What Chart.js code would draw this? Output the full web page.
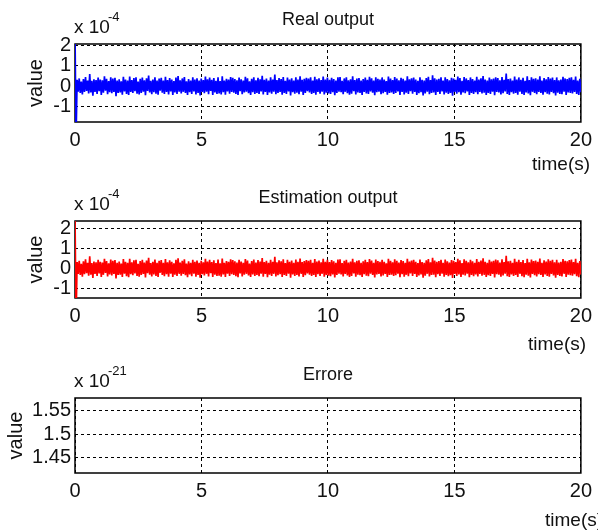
<!DOCTYPE html>
<html>
<head>
<meta charset="utf-8">
<script src="https://cdn.jsdelivr.net/npm/chart.js@4/dist/chart.umd.min.js"></script>
<style>
  html, body { margin: 0; padding: 0; background: #fff; }
  #wrap { position: relative; width: 598px; height: 532px; }
  .panel { position: absolute; left: 0; width: 598px; }
</style>
</head>
<body>
<div id="wrap">
  <div class="panel" style="top:0;height:180px"><canvas id="c1"></canvas></div>
  <div class="panel" style="top:180px;height:176px"><canvas id="c2"></canvas></div>
  <div class="panel" style="top:356px;height:176px"><canvas id="c3"></canvas></div>
</div>
<script>
// x axis: time in seconds
const timeTicks = [0, 5, 10, 15, 20];
const timeEnd = 20;

// y ticks (values shown in units of the exponent label)
const realTicks = [-1, 0, 1, 2];
const estTicks = [-1, 0, 1, 2];
const errTicks = [1.45, 1.5, 1.55];

// real output, x 10^-4 (start transient, then noise band)
const realValues = [
  2.6, -2.6,
  0.31, -0.27, 0.38, -0.33, 0.22, -0.41, 0.35, -0.29, 0.45, -0.24,
  0.28, -0.36, 0.60, -0.31, 0.26, -0.47, 0.34, -0.28, 0.30, -0.38,
  0.42, -0.25, 0.33, -0.43, 0.29, -0.32, 0.48, -0.23, 0.36, -0.40,
  0.25, -0.30, 0.44, -0.35, 0.37, -0.28, 0.41, -0.50, 0.27, -0.33,
  0.34, -0.31, 0.24, -0.42, 0.46, -0.26, 0.32, -0.39, 0.28, -0.44,
  0.47, -0.29, 0.30, -0.34, 0.40, -0.25, 0.43, -0.37, 0.23, -0.41,
  0.36, -0.33, 0.42, -0.27, 0.29, -0.45, 0.39, -0.24, 0.52, -0.31,
  0.26, -0.40, 0.33, -0.30, 0.44, -0.37, 0.28, -0.42, 0.37, -0.22,
  0.41, -0.32, 0.27, -0.39, 0.46, -0.29, 0.30, -0.41, 0.40, -0.26,
  0.33, -0.43, 0.25, -0.31, 0.42, -0.38, 0.50, -0.27, 0.29, -0.36,
  0.38, -0.28, 0.45, -0.34, 0.24, -0.44, 0.35, -0.30, 0.28, -0.39,
  0.43, -0.26, 0.32, -0.41, 0.39, -0.33, 0.27, -0.46, 0.37, -0.29,
  0.30, -0.35, 0.47, -0.27, 0.34, -0.40, 0.42, -0.24, 0.31, -0.43,
  0.40, -0.31, 0.26, -0.38, 0.44, -0.36, 0.25, -0.41, 0.49, -0.30,
  0.27, -0.42, 0.36, -0.26, 0.33, -0.37, 0.45, -0.29, 0.41, -0.32,
  0.35, -0.39, 0.29, -0.44, 0.42, -0.25, 0.34, -0.40, 0.28, -0.31,
  0.46, -0.27, 0.39, -0.35, 0.24, -0.43, 0.36, -0.30, 0.44, -0.38,
  0.29, -0.33, 0.41, -0.39, 0.34, -0.26, 0.51, -0.41, 0.31, -0.28,
  0.37, -0.44, 0.27, -0.31, 0.43, -0.37, 0.32, -0.27, 0.57, -0.40,
  0.30, -0.34, 0.40, -0.29, 0.35, -0.42, 0.45, -0.33, 0.26, -0.38,
  0.42, -0.26, 0.33, -0.46, 0.39, -0.30, 0.28, -0.37, 0.44, -0.32,
  0.32, -0.40, 0.49, -0.27, 0.31, -0.43, 0.36, -0.34, 0.41, -0.25,
  0.37, -0.31, 0.43, -0.38, 0.27, -0.33, 0.46, -0.42, 0.34, -0.29,
  0.39, -0.37, 0.30, -0.27, 0.47, -0.41, 0.33, -0.32, 0.42, -0.36,
  0.31, -0.39, 0.41, -0.30, 0.35, -0.45, 0.28, -0.33, 0.44, -0.27,
  0.45, -0.30, 0.26, -0.40, 0.38, -0.28, 0.43, -0.35, 0.29, -0.42,
  0.34, -0.37, 0.48, -0.25, 0.30, -0.41, 0.37, -0.31, 0.40, -0.34,
  0.27, -0.43, 0.35, -0.29, 0.42, -0.36, 0.31, -0.39, 0.46, -0.26,
  0.39, -0.32, 0.28, -0.45, 0.44, -0.30, 0.36, -0.27, 0.33, -0.40,
  0.43, -0.35, 0.32, -0.28, 0.25, -0.42, 0.47, -0.33, 0.38, -0.31,
  0.30, -0.38, 0.45, -0.34, 0.37, -0.26, 0.29, -0.44, 0.41, -0.29,
  0.36, -0.41, 0.27, -0.32, 0.48, -0.39, 0.34, -0.25, 0.39, -0.37,
  0.42, -0.28, 0.33, -0.43, 0.26, -0.35, 0.44, -0.30, 0.31, -0.46,
  0.28, -0.36, 0.40, -0.27, 0.46, -0.40, 0.30, -0.33, 0.53, -0.31,
  0.39, -0.44, 0.32, -0.29, 0.36, -0.38, 0.43, -0.26, 0.27, -0.41,
  0.44, -0.32, 0.35, -0.39, 0.29, -0.34, 0.41, -0.47, 0.37, -0.28,
  0.31, -0.37, 0.47, -0.30, 0.40, -0.42, 0.26, -0.31, 0.45, -0.35,
  0.38, -0.26, 0.30, -0.44, 0.43, -0.33, 0.35, -0.39, 0.28, -0.30,
  0.46, -0.40, 0.33, -0.28, 0.39, -0.36, 0.50, -0.32, 0.32, -0.43,
  0.27, -0.34, 0.42, -0.38, 0.34, -0.27, 0.37, -0.45, 0.44, -0.29,
  0.40, -0.31, 0.29, -0.41, 0.45, -0.35, 0.31, -0.26, 0.62, -0.39,
  0.35, -0.43, 0.38, -0.30, 0.28, -0.37, 0.47, -0.33, 0.33, -0.42,
  0.43, -0.27, 0.31, -0.39, 0.41, -0.44, 0.26, -0.31, 0.48, -0.36,
  0.30, -0.45, 0.44, -0.28, 0.36, -0.34, 0.39, -0.40, 0.32, -0.29,
  0.49, -0.33, 0.27, -0.42, 0.40, -0.30, 0.34, -0.37, 0.45, -0.41,
  0.37, -0.28, 0.42, -0.35, 0.30, -0.46, 0.43, -0.32, 0.29, -0.38,
  0.33, -0.40, 0.46, -0.27, 0.38, -0.43, 0.35, -0.31, 0.41, -0.34,
  0.44, -0.36, 0.31, -0.29, 0.47, -0.39, 0.28, -0.44, 0.36, -0.30
];
// estimation output matches the real output (error is ~1e-21)
const estValues = realValues.slice();
// error, x 10^-21: nothing visible inside the shown range
const errValues = [];

const FONT = '"Liberation Sans", Arial, sans-serif';
const TXT = '#111';

function toPoints(vals) {
  const dt = timeEnd / (vals.length - 1);
  return vals.map((v, i) => ({ x: i * dt, y: v }));
}

// box under the data, texts drawn at fixed spots
const decor = {
  id: 'decor',
  beforeDatasetsDraw(chart) {
    const a = chart.chartArea;
    const ctx = chart.ctx;
    ctx.save();
    ctx.strokeStyle = '#000';
    ctx.lineWidth = 1.5;
    ctx.strokeRect(a.left, a.top, a.right - a.left, a.bottom - a.top);
    ctx.restore();
  },
  afterDraw(chart) {
    const o = chart.options.plugins.decor;
    const a = chart.chartArea;
    const ctx = chart.ctx;
    ctx.save();
    ctx.fillStyle = TXT;
    ctx.textBaseline = 'middle';
    ctx.font = '18px ' + FONT;
    ctx.textAlign = 'center';
    ctx.fillText(o.title, 328, o.titleY);
    ctx.textAlign = 'left';
    ctx.font = '19px ' + FONT;
    ctx.fillText('x 10', 74, o.expY);
    ctx.font = '13px ' + FONT;
    ctx.fillText(o.exp, 108, o.expY - 11);
    ctx.font = '19px ' + FONT;
    ctx.fillText('time(s)', o.timeX, 165);
    ctx.translate(o.valueX, (a.top + a.bottom) / 2);
    ctx.rotate(-Math.PI / 2);
    ctx.textAlign = 'center';
    ctx.font = '20px ' + FONT;
    ctx.fillText('value', 0, 0);
    ctx.restore();
  }
};

function makeChart(id, vals, color, yTicks, yMin, yMax, areaTop, xHeight, deco) {
  return new Chart(document.getElementById(id), {
    type: 'line',
    data: {
      datasets: [{
        data: toPoints(vals.length ? vals : [NaN, NaN]),
        borderColor: color,
        borderWidth: 1.7,
        pointRadius: 0,
        tension: 0,
        spanGaps: false
      }]
    },
    options: {
      responsive: true,
      maintainAspectRatio: false,
      animation: false,
      events: [],
      layout: { padding: { top: areaTop, right: 16, left: 0, bottom: 0 } },
      plugins: { legend: { display: false }, tooltip: { enabled: false }, decor: deco },
      scales: {
        x: {
          type: 'linear',
          min: 0,
          max: timeEnd,
          afterBuildTicks: (ax) => { ax.ticks = timeTicks.map(v => ({ value: v })); },
          afterFit: (ax) => { ax.height = xHeight; },
          grid: { color: '#000', lineWidth: 1, drawTicks: false },
          border: { display: false, dash: [3, 3] },
          ticks: { color: TXT, font: { family: FONT, size: 20 }, padding: 6, maxRotation: 0, autoSkip: false }
        },
        y: {
          min: yMin,
          max: yMax,
          afterBuildTicks: (ax) => { ax.ticks = yTicks.map(v => ({ value: v })); },
          afterFit: (ax) => { ax.width = 75; },
          grid: { color: '#000', lineWidth: 1, drawTicks: false },
          border: { display: false, dash: [3, 3] },
          ticks: { color: TXT, font: { family: FONT, size: 20 }, padding: 4, autoSkip: false,
                   callback: (v) => String(v) }
        }
      }
    },
    plugins: [decor]
  });
}

makeChart('c1', realValues, '#0000ff', realTicks, -1.77, 2.08, 44, 58,
  { title: 'Real output', titleY: 20, expY: 28, exp: '-4', timeX: 532, valueX: 36 });
makeChart('c2', estValues, '#ff0000', estTicks, -1.47, 2.35, 41, 58,
  { title: 'Estimation output', titleY: 18, expY: 25, exp: '-4', timeX: 528, valueX: 36 });
makeChart('c3', errValues, '#0000ff', errTicks, 1.418, 1.576, 42, 59,
  { title: 'Errore', titleY: 19, expY: 26, exp: '-21', timeX: 545, valueX: 16 });
</script>
</body>
</html>
